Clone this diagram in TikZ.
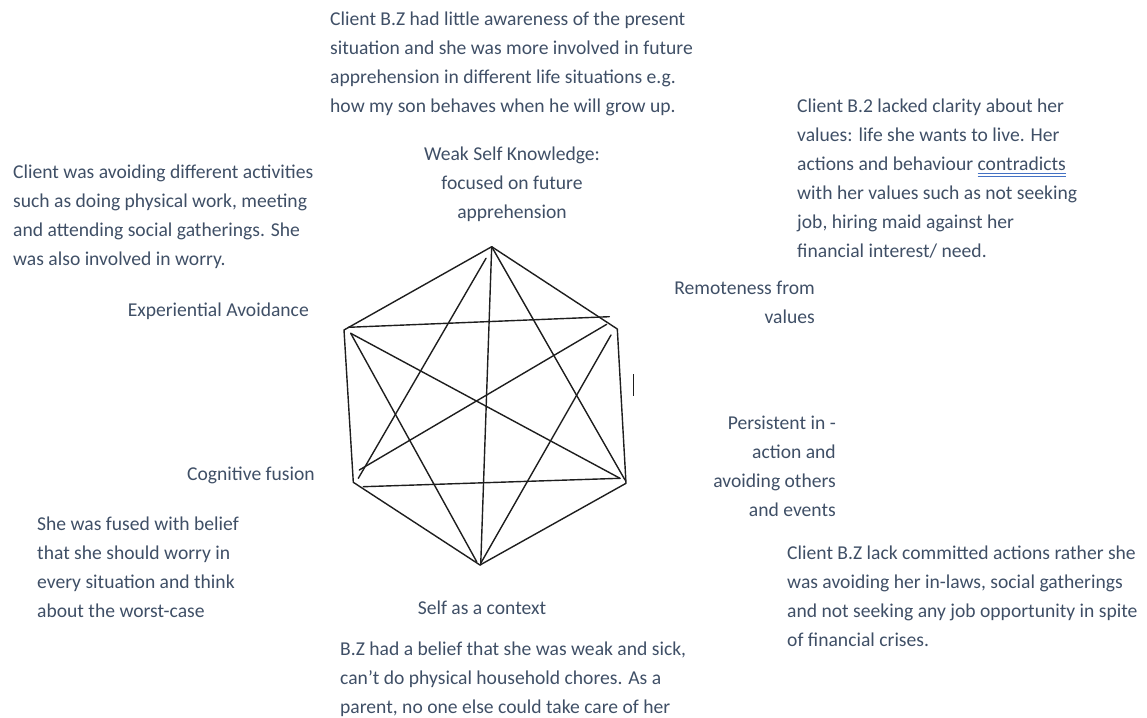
\documentclass[tikz,border=0pt]{standalone}
\usepackage{fontspec}
\setmainfont{Carlito}
\usetikzlibrary{calc}
\definecolor{slate}{HTML}{3F4F66}
\definecolor{gramblue}{HTML}{4472C4}
\definecolor{pen}{HTML}{1E1E1E}
% double grammar underline as Word draws it
\newsavebox{\grambox}
\newcommand{\gramline}[1]{\sbox{\grambox}{#1}\leavevmode
  \rlap{\textcolor{gramblue}{\rule[-3.2pt]{\wd\grambox}{0.7pt}}}%
  \rlap{\textcolor{gramblue}{\rule[-5.4pt]{\wd\grambox}{0.7pt}}}\usebox{\grambox}}
\tikzset{
  note/.style={text=slate,font=\fontsize{19.6}{29}\selectfont,inner sep=0pt},
  stroke/.style={draw=pen,line width=1.4pt,line cap=round,line join=round},
}

\begin{document}
\begin{tikzpicture}[x=1pt,y=-1pt]
  \useasboundingbox (0,0) rectangle (1147,717);
  % hexagon corners
  \coordinate (hT)  at (491.7,246.7);
  \coordinate (hUR) at (617.3,329);
  \coordinate (hLR) at (626,483.3);
  \coordinate (hB)  at (480,565);
  \coordinate (hLL) at (353.3,482.3);
  \coordinate (hUL) at (344,330);
  \draw[stroke] (hT) -- (hUR) -- (hLR) -- (hB) -- (hLL) -- (hUL) -- cycle;
  % ends of the hand drawn chords
  \coordinate (cUL)  at (348.3,327.3);
  \coordinate (cURa) at (609.3,316.7);
  \coordinate (cTa)  at (486,258.3);
  \coordinate (cLLa) at (358.3,478.3);
  \coordinate (cBa)  at (480.7,565);
  \coordinate (cLRa) at (625,480);
  \coordinate (cULb) at (350.7,333.3);
  \coordinate (cLRb) at (620,478.3);
  \coordinate (cBb)  at (476.7,561.7);
  \coordinate (cURb) at (606.7,324.3);
  \coordinate (cLLb) at (359.3,470);
  \coordinate (cURc) at (611,335);
  \coordinate (cBc)  at (480.7,563.3);
  \coordinate (cLLc) at (363.3,486.7);
  \foreach \p/\q in {cUL/cURa,cTa/cLLa,hT/cBa,hT/cLRa,cULb/cLRb,cULb/cBb,
                     cURb/cLLb,cURc/cBc,cLLc/cLRb}
    \draw[stroke] (\p) -- (\q);
  \coordinate (tickA) at (633.3,374);
  \coordinate (tickB) at (633.3,395.7);
  \draw[draw=pen,line width=1.2pt] (tickA) -- (tickB);

  % labels round the hexagon
  \node[note,anchor=north,align=center] (wsk) at (512,147)
     {Weak Self Knowledge:\\focused on future\\apprehension};
  \node[note,anchor=north east,align=right] (rfv) at (815,281)
     {Remoteness from\\values};
  \node[note,anchor=north east] (exa) at (309,303) {Experiential Avoidance};
  \node[note,anchor=north east] (cgf) at (315,467) {Cognitive fusion};
  \node[note,anchor=north east,align=right] (pia) at (836,416)
     {Persistent in -\\action and\\avoiding others\\and events};
  \node[note,anchor=north] (sac) at (482,601) {Self as a context};

  % case notes
  \node[note,anchor=north west,align=left] (ntop) at (330,12)
     {Client B.Z had little awareness of the present\\
      situation and she was more involved in future\\
      apprehension in different life situations e.g.\\
      how my son behaves when he will grow up.};
  \node[note,anchor=north west,align=left] (nval) at (797,99)
     {Client B.2 lacked clarity about her\\
      values: life she wants to live. Her\\
      actions and behaviour \gramline{contradicts}\\
      with her values such as not seeking\\
      job, hiring maid against her\\
      financial interest/ need.};
  \node[note,anchor=north west,align=left] (navd) at (13,165)
     {Client was avoiding different activities\\
      such as doing physical work, meeting\\
      and attending social gatherings. She\\
      was also involved in worry.};
  \node[note,anchor=north west,align=left] (nfus) at (37,517)
     {She was fused with belief\\
      that she should worry in\\
      every situation and think\\
      about the worst-case};
  \node[note,anchor=north west,align=left] (nact) at (787,546)
     {Client B.Z lack committed actions rather she\\
      was avoiding her in-laws, social gatherings\\
      and not seeking any job opportunity in spite\\
      of financial crises.};
  \node[note,anchor=north west,align=left] (nself) at (340,642)
     {B.Z had a belief that she was weak and sick,\\
      can’t do physical household chores. As a\\
      parent, no one else could take care of her};
\end{tikzpicture}
\end{document}
